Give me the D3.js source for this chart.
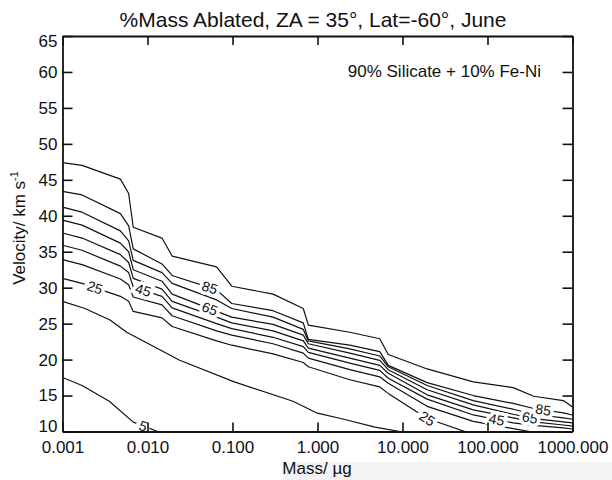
<!DOCTYPE html>
<html>
<head>
<meta charset="utf-8">
<script src="https://cdn.jsdelivr.net/npm/d3@7"></script>
<style>
body{margin:0;background:#fff}
text{font-family:"Liberation Sans",Arial,Helvetica,sans-serif;fill:#111}
</style>
</head>
<body>
<svg id="chart" width="612" height="480"></svg>
<script>
// mass grid (µg) shared by the upper contours
var massKnots = [0.001, 0.0017, 0.0048, 0.006, 0.0068, 0.0148, 0.0195, 0.065, 0.098, 0.3, 0.68, 0.78, 2.4, 5.4, 6.8, 19.5, 68, 200, 350, 780, 1000];
// velocity (km/s) of each contour level at the mass grid
var vel95 = [47.4, 47.0, 45.1, 43.1, 38.4, 36.9, 34.4, 32.9, 30.2, 29.1, 27.1, 24.8, 23.8, 22.9, 20.7, 18.7, 16.9, 16.1, 14.9, 14.3, 13.4];
var vel85 = [43.4, 42.9, 40.3, 38.6, 35.4, 33.3, 31.7, 29.7, 27.8, 26.8, 25.1, 22.8, 22.0, 21.1, 19.2, 16.8, 15.0, 13.9, 13.2, 12.6, 12.3];
var vel75 = [41.2, 40.5, 37.9, 36.5, 33.8, 32.1, 30.6, 28.3, 27.1, 25.9, 24.2, 22.6, 21.5, 20.5, 19.0, 16.4, 14.3, 13.1, 12.4, 11.9, 11.7];
var vel65 = [39.4, 38.7, 36.2, 35.0, 32.5, 30.9, 29.1, 26.7, 25.9, 24.9, 23.4, 22.2, 20.9, 19.9, 18.6, 15.8, 13.7, 12.4, 11.8, 11.35, 11.2];
var vel55 = [37.6, 36.9, 34.6, 33.5, 31.3, 29.8, 28.1, 25.9, 25.1, 24.0, 22.6, 21.6, 20.2, 19.2, 18.1, 15.1, 13.0, 11.9, 11.35, 10.9, 10.75];
var vel45 = [35.9, 35.2, 33.0, 32.1, 30.1, 28.8, 27.2, 25.0, 24.3, 23.1, 21.8, 21.0, 19.5, 18.5, 17.4, 14.5, 12.3, 11.2, 10.85, 10.5, 10.35];
var vel35 = [33.9, 33.2, 31.2, 30.4, 28.7, 27.6, 26.1, 24.0, 23.4, 22.2, 20.9, 20.2, 18.6, 17.6, 16.7, 13.5, 11.4, 10.4, 9.9, 9.4, 9.2];
var vel25 = [31.3, 30.6, 28.8, 28.1, 26.7, 25.8, 24.6, 22.6, 22.0, 20.8, 19.6, 19.0, 17.2, 16.2, 15.3, 11.8, 9.6];
// the two lowest contours have their own points
var mass15 = [0.001, 0.00184, 0.00362, 0.00569, 0.0239, 0.105, 0.515, 0.97, 2.04, 4.74, 9.33, 15.8];
var vel15 = [28.1, 27.1, 25.5, 23.8, 19.9, 16.9, 14.2, 12.6, 11.7, 10.6, 10.0, 9.5];
var mass5 = [0.001, 0.0017, 0.00355, 0.0068, 0.0132, 0.02];
var vel5 = [17.5, 16.4, 14.2, 11.3, 10.0, 9.0];

var levels = [95, 85, 75, 65, 55, 45, 35, 25, 15, 5];
var labelLevels = [5, 25, 45, 65, 85, 25, 45, 65, 85];
var labelMasses = [0.0089, 0.0024, 0.0089, 0.054, 0.054, 19.5, 128, 316, 453];
var xTicks = [0.001, 0.01, 0.1, 1, 10, 100, 1000];
var yTicks = [10, 15, 20, 25, 30, 35, 40, 45, 50, 55, 60, 65];

var curves = {
  95: vel95, 85: vel85, 75: vel75, 65: vel65, 55: vel55,
  45: vel45, 35: vel35, 25: vel25
};
function pointsFor(level){
  if(level===15) return mass15.map(function(m,i){return [m, vel15[i]];});
  if(level===5) return mass5.map(function(m,i){return [m, vel5[i]];});
  var v = curves[level];
  return v.map(function(d,i){return [massKnots[i], d];});
}

var svg = d3.select("#chart");
var L = 62.5, R = 572.5, T = 36, B = 431.5;
var x = d3.scaleLog().domain([0.001, 1000]).range([L, R]);
var y = d3.scaleLinear().domain([10, 65]).range([B, T]);

svg.append("rect").attr("x", 283).attr("y", 462).attr("width", 329).attr("height", 18).attr("fill", "#f3f3f3");

svg.append("defs").append("clipPath").attr("id", "plotclip")
  .append("rect").attr("x", L).attr("y", T).attr("width", R - L).attr("height", B - T);

var line = d3.line().x(function(d){return x(d[0]);}).y(function(d){return y(d[1]);});

var g = svg.append("g").attr("clip-path", "url(#plotclip)");
levels.forEach(function(lv){
  g.append("path")
    .attr("d", line(pointsFor(lv)))
    .attr("fill", "none")
    .attr("stroke", "#111")
    .attr("stroke-width", 1.2)
    .attr("stroke-linejoin", "round");
});

// contour labels sit on the line with a white gap
function labelAt(level, m){
  var pts = pointsFor(level).map(function(d){return [x(d[0]), y(d[1])];});
  var px = x(m);
  for(var i=0;i<pts.length-1;i++){
    var a = pts[i], b = pts[i+1];
    if(px>=a[0] && px<=b[0]){
      var t = (px-a[0])/(b[0]-a[0]);
      return {x: px, y: a[1]+t*(b[1]-a[1]), ang: Math.atan2(b[1]-a[1], b[0]-a[0])*180/Math.PI};
    }
  }
  return null;
}
labelLevels.forEach(function(lv, i){
  var p = labelAt(lv, labelMasses[i]);
  if(!p) return;
  g.append("text")
    .attr("transform", "translate(" + p.x + "," + p.y + ") rotate(" + p.ang + ")")
    .attr("text-anchor", "middle")
    .attr("dy", "0.35em")
    .attr("font-size", 14)
    .attr("stroke", "#fff")
    .attr("stroke-width", 7)
    .attr("paint-order", "stroke")
    .text(lv);
});

// axes, ticks pointing inward
var fmtX = d3.format(".3f");
var axBottom = svg.append("g").attr("transform", "translate(0," + B + ")")
  .call(d3.axisBottom(x).tickValues(xTicks).tickFormat(fmtX).tickSize(-9).tickSizeOuter(0).tickPadding(9));
var axTop = svg.append("g").attr("transform", "translate(0," + T + ")")
  .call(d3.axisTop(x).tickValues(xTicks).tickFormat("").tickSize(-9).tickSizeOuter(0));
var axLeft = svg.append("g").attr("transform", "translate(" + L + ",0)")
  .call(d3.axisLeft(y).tickValues(yTicks).tickSize(-10).tickSizeOuter(0).tickPadding(5));
var axRight = svg.append("g").attr("transform", "translate(" + R + ",0)")
  .call(d3.axisRight(y).tickValues(yTicks).tickFormat("").tickSize(-10).tickSizeOuter(0));

[axBottom, axTop, axLeft, axRight].forEach(function(ax){
  ax.select(".domain").attr("stroke", "#111").attr("stroke-width", 1.8);
  ax.selectAll(".tick line").attr("stroke", "#111").attr("stroke-width", 1.6);
  ax.selectAll(".tick text").attr("font-size", 17).attr("fill", "#111")
    .style("font-family", "'Liberation Sans', Arial, sans-serif");
});
// end labels of the y axis are kept inside the frame height
axLeft.selectAll(".tick text").attr("y", function(d){ return d === 65 ? 5 : (d === 10 ? -5 : 0); });

svg.append("text").attr("x", 313).attr("y", 27).attr("text-anchor", "middle")
  .attr("font-size", 21).text("%Mass Ablated, ZA = 35°, Lat=-60°, June");

svg.append("text").attr("x", 541).attr("y", 77).attr("text-anchor", "end")
  .attr("font-size", 17).text("90% Silicate + 10% Fe-Ni");

svg.append("text").attr("x", 317).attr("y", 474).attr("text-anchor", "middle")
  .attr("font-size", 17).text("Mass/ µg");

var yt = svg.append("text").attr("transform", "translate(25,228) rotate(-90)")
  .attr("text-anchor", "middle").attr("font-size", 17);
yt.append("tspan").text("Velocity/ km s");
yt.append("tspan").attr("dy", -7).attr("font-size", 11).text("-1");
</script>
</body>
</html>
